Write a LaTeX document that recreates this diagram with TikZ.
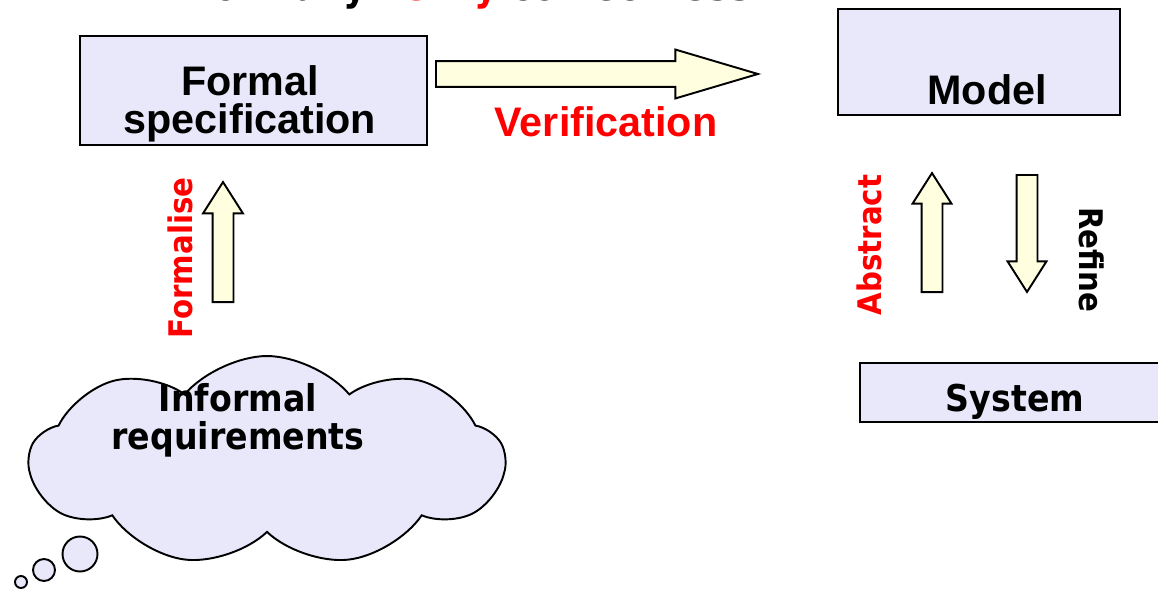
\documentclass[tikz,border=0pt]{standalone}
\usepackage{fontspec}
\setmainfont{Liberation Sans}
\newfontfamily\labelfont[FakeStretch=0.9]{DejaVu Sans}
\usetikzlibrary{positioning,shapes.symbols,shapes.arrows}
\definecolor{boxfill}{RGB}{232,232,250}
\definecolor{arrowfill}{RGB}{255,255,224}
\tikzset{
  box/.style={draw, line width=1.1pt, fill=boxfill, inner sep=0pt},
  headtext/.style={font=\fontsize{23.5}{21.5}\selectfont\bfseries, align=center},
  cloudtext/.style={font=\labelfont\fontsize{21}{21.5}\selectfont\bfseries, align=center},
  sidetext/.style={font=\labelfont\fontsize{18.5}{20}\selectfont\bfseries},
  fatarrow/.style={single arrow, draw, line width=1.1pt, fill=arrowfill, inner xsep=0pt, anchor=tail},
}
\begin{document}
\begin{tikzpicture}[x=0.02cm, y=-0.02cm]
\useasboundingbox (0,0) rectangle (1158,588);
% title, mostly cut off at the top
\node (title)[anchor=base east, font=\labelfont\fontsize{23}{24}\selectfont\bfseries] at (757, 0.5) {formally \textcolor{red}{verify} correctness};
% boxes
\node (spec)[box, minimum width=6.94cm, minimum height=2.18cm] at (253.5, 90.5) {};
\node (spectext)[headtext] at (250, 104) {Formal\\specification};
\node (model)[box, minimum width=5.64cm, minimum height=2.12cm] at (979, 62) {};
\node (modeltext)[headtext] at (987, 90) {Model};
\node (system)[box, minimum width=6.4cm, minimum height=1.18cm] at (1020, 392.5) {};
\node (systemtext)[cloudtext] at (1015, 402) {System};
% cloud and bubbles
\node (cloud)[cloud, draw, line width=1.1pt, fill=boxfill, cloud puffs=9, cloud puff arc=100, aspect=2.2, minimum width=9.5cm, minimum height=4.2cm, inner sep=0pt] at (267, 461) {};
\node (reqtext)[cloudtext] at (238, 420) {Informal\\requirements};
\node (bubble1)[circle, draw, line width=1.1pt, fill=boxfill, inner sep=0pt, minimum size=0.7cm] at (80, 554) {};
\node (bubble2)[circle, draw, line width=1.1pt, fill=boxfill, inner sep=0pt, minimum size=0.44cm] at (44, 570) {};
\node (bubble3)[circle, draw, line width=1.1pt, fill=boxfill, inner sep=0pt, minimum size=0.24cm] at (21, 582) {};
% block arrows
\node (verifyarrow)[fatarrow, minimum height=6.44cm, inner ysep=0.24cm, minimum width=0.94cm, single arrow head extend=0.23cm, single arrow tip angle=33] at (435, 74) {};
\node (formalisearrow)[fatarrow, rotate=90, minimum height=2.4cm, inner ysep=0.19cm, minimum width=0.76cm, single arrow head extend=0.19cm, single arrow tip angle=65] at (223, 303) {};
\node (abstractarrow)[fatarrow, rotate=90, minimum height=2.38cm, inner ysep=0.19cm, minimum width=0.74cm, single arrow head extend=0.18cm, single arrow tip angle=65] at (932, 293) {};
\node (refinearrow)[fatarrow, rotate=-90, minimum height=2.34cm, inner ysep=0.19cm, minimum width=0.74cm, single arrow head extend=0.18cm, single arrow tip angle=65] at (1027, 174) {};
% arrow labels
\node (verifylabel)[headtext, text=red] at (606, 121.5) {Verification};
\node (formaliselabel)[sidetext, text=red, rotate=90] at (180, 258) {Formalise};
\node (abstractlabel)[sidetext, text=red, rotate=90] at (869, 245) {Abstract};
\node (refinelabel)[sidetext, rotate=-90] at (1092, 259.5) {Refine};
\end{tikzpicture}
\end{document}
